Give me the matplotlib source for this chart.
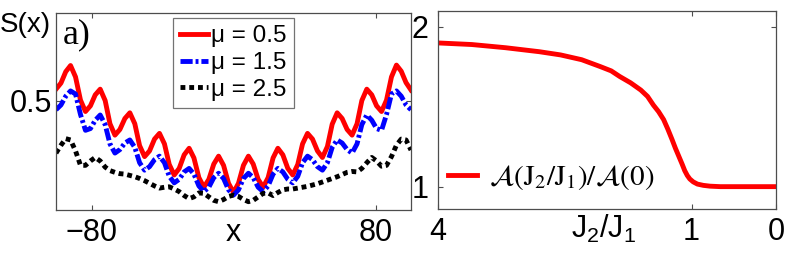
import matplotlib
matplotlib.use("Agg")
import matplotlib.pyplot as plt
from matplotlib.font_manager import FontProperties

plt.rcParams["font.family"] = ["Liberation Sans", "DejaVu Sans"]
plt.rcParams["mathtext.fontset"] = "custom"
plt.rcParams["mathtext.rm"] = "Liberation Sans"
plt.rcParams["mathtext.it"] = "Liberation Sans:italic"
plt.rcParams["mathtext.bf"] = "Liberation Sans:bold"

# panel a): S(x) for three chemical potentials
x_pos = [-100.0, -97.2, -94.5, -91.8, -89.0, -86.2, -83.4, -80.6, -77.9, -75.1,
         -72.3, -69.6, -66.8, -64.0, -61.2, -58.4, -55.6, -52.9, -50.1, -47.3,
         -44.5, -41.7, -38.9, -36.2, -33.4, -30.6, -27.8, -25.0, -22.3, -19.5,
         -16.7, -13.9, -11.1, -8.4, -5.6, -2.8, 0.0, 2.8, 5.6, 8.4,
         11.1, 13.9, 16.7, 19.5, 22.3, 25.0, 27.8, 30.6, 33.4, 36.2,
         38.9, 41.7, 44.5, 47.3, 50.1, 52.9, 55.6, 58.4, 61.2, 64.0,
         66.8, 69.6, 72.3, 75.1, 77.9, 80.6, 83.4, 86.2, 89.0, 91.8,
         94.5, 97.2, 100.0]

s_mu05 = [0.526, 0.540, 0.566, 0.580, 0.554, 0.501, 0.475, 0.488, 0.513, 0.526,
          0.500, 0.447, 0.421, 0.434, 0.459, 0.472, 0.447, 0.397, 0.372, 0.385,
          0.412, 0.425, 0.401, 0.354, 0.330, 0.345, 0.376, 0.391, 0.369, 0.324,
          0.302, 0.320, 0.355, 0.373, 0.352, 0.311, 0.290, 0.311, 0.352, 0.373,
          0.355, 0.320, 0.302, 0.324, 0.369, 0.391, 0.376, 0.345, 0.330, 0.354,
          0.401, 0.425, 0.412, 0.385, 0.370, 0.395, 0.446, 0.472, 0.459, 0.434,
          0.421, 0.447, 0.500, 0.526, 0.513, 0.488, 0.475, 0.501, 0.554, 0.581,
          0.567, 0.541, 0.524]

s_mu15 = [0.479, 0.490, 0.510, 0.522, 0.515, 0.468, 0.432, 0.436, 0.455, 0.467,
          0.445, 0.401, 0.380, 0.388, 0.403, 0.410, 0.393, 0.358, 0.341, 0.349,
          0.365, 0.373, 0.358, 0.327, 0.312, 0.320, 0.337, 0.345, 0.332, 0.305,
          0.292, 0.302, 0.324, 0.334, 0.322, 0.296, 0.284, 0.296, 0.322, 0.334,
          0.324, 0.302, 0.292, 0.305, 0.332, 0.345, 0.337, 0.320, 0.312, 0.327,
          0.358, 0.373, 0.365, 0.349, 0.341, 0.358, 0.393, 0.410, 0.403, 0.388,
          0.380, 0.401, 0.445, 0.467, 0.455, 0.436, 0.432, 0.468, 0.515, 0.522,
          0.510, 0.490, 0.479]

s_mu25 = [0.380, 0.398, 0.413, 0.410, 0.385, 0.352, 0.352, 0.362, 0.370, 0.362,
          0.348, 0.340, 0.336, 0.333, 0.332, 0.329, 0.326, 0.322, 0.317, 0.311,
          0.305, 0.300, 0.302, 0.303, 0.298, 0.292, 0.283, 0.276, 0.280, 0.289,
          0.288, 0.280, 0.272, 0.269, 0.274, 0.281, 0.284, 0.281, 0.274, 0.269,
          0.272, 0.280, 0.288, 0.289, 0.283, 0.290, 0.296, 0.298, 0.298, 0.300,
          0.302, 0.304, 0.307, 0.310, 0.314, 0.318, 0.322, 0.326, 0.331, 0.336,
          0.338, 0.337, 0.345, 0.358, 0.370, 0.362, 0.350, 0.352, 0.372, 0.398,
          0.412, 0.410, 0.387]

mu_labels = ["μ = 0.5", "μ = 1.5", "μ = 2.5"]

# panel b): area ratio vs J2/J1
j_ratio = [4.0, 3.6, 3.2, 2.8, 2.55, 2.3, 2.08, 1.95, 1.85, 1.72,
           1.6, 1.52, 1.45, 1.39, 1.33, 1.28, 1.23, 1.19, 1.15, 1.11,
           1.08, 1.05, 1.02, 0.98, 0.93, 0.86, 0.78, 0.66, 0.4, 0.0]
area_ratio = [1.90, 1.89, 1.87, 1.845, 1.825, 1.795, 1.752, 1.725, 1.69, 1.65,
              1.605, 1.565, 1.51, 1.47, 1.42, 1.36, 1.295, 1.24, 1.19, 1.14,
              1.10, 1.07, 1.048, 1.03, 1.016, 1.008, 1.003, 1.0, 1.0, 1.0]

fig = plt.figure(figsize=(7.89, 2.61), dpi=100)
ax1 = fig.add_axes([56 / 789, 51 / 261, 355 / 789, 197 / 261])
ax2 = fig.add_axes([438 / 789, 52 / 261, 338 / 789, 198 / 261])

spine_col = "0.3"
for ax in (ax1, ax2):
    for sp in ax.spines.values():
        sp.set_color(spine_col)
        sp.set_linewidth(0.9)
    ax.tick_params(direction="in", length=3.5, width=0.8, color=spine_col,
                   top=True, right=True, labelsize=22)

# --- left panel
ax1.plot(x_pos, s_mu05, color="#ff0000", lw=3.5, solid_joinstyle="round",
         label=mu_labels[0])
ax1.plot(x_pos, s_mu15, color="#0000ff", lw=3.5, dash_capstyle="butt",
         linestyle=(0, (2.5, 0.6, 0.6, 0.6)), label=mu_labels[1])
ax1.plot(x_pos, s_mu25, color="black", lw=3.5, dash_capstyle="butt",
         linestyle=(0, (1.0, 0.8)), label=mu_labels[2])
ax1.set_xlim(-100, 100)
ax1.set_ylim(0.25, 0.70)
ax1.set_xticks([-80, 80])
ax1.set_yticks([0.5])
ax1.set_yticklabels(["0.5"])
ax1.tick_params(axis="y", pad=3)
ax1.tick_params(axis="x", pad=6)
ax1.set_xlabel("x", fontsize=22, va="baseline")
ax1.xaxis.set_label_coords(0.5, -0.157)
ax1.set_ylabel("S(x)", fontsize=20, rotation=0, ha="center", va="center")
ax1.yaxis.set_label_coords(-0.087, 0.94)
ax1.text(0.02, 0.848, "a)", transform=ax1.transAxes, fontsize=26,
         family="Liberation Serif", va="baseline")
leg1 = ax1.legend(loc="upper left", bbox_to_anchor=(0.33, 0.975), borderaxespad=0,
                  fontsize=17.5, handlelength=1.15, handletextpad=0.1,
                  labelspacing=0.2, borderpad=0.3, fancybox=False, framealpha=1)
leg1.get_frame().set_edgecolor("0.45")
leg1.get_frame().set_linewidth(0.9)

# --- right panel
ax2.plot(j_ratio, area_ratio, color="#ff0000", lw=3.5, solid_joinstyle="round",
         label=r"$\mathcal{A}(\mathrm{J}_2/\mathrm{J}_1)/\mathcal{A}(0)$")
ax2.set_xlim(4, 0)
ax2.set_ylim(0.86, 2.1)
ax2.set_xticks([4, 1, 0])
ax2.set_yticks([1, 2])
ax2.tick_params(axis="y", pad=7)
ax2.tick_params(axis="x", pad=6)
ax2.set_xlabel(r"J$_2$/J$_1$", fontsize=22, va="baseline")
ax2.xaxis.set_label_coords(0.49, -0.146)
leg_prop = FontProperties(size=21, math_fontfamily="stix")
ax2.legend(loc="center left", bbox_to_anchor=(0.03, 0.157), borderaxespad=0,
           borderpad=0, frameon=False, prop=leg_prop, handlelength=1.0,
           handletextpad=0.4)

fig.savefig("out.png", dpi=100)
